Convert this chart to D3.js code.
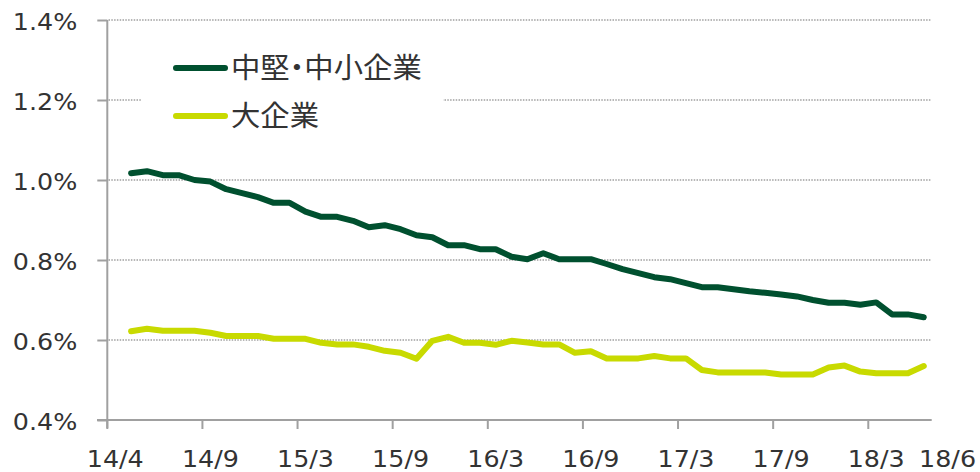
<!DOCTYPE html>
<html>
<head>
<meta charset="utf-8">
<script src="https://cdn.jsdelivr.net/npm/d3@7"></script>
<style>
  html, body { margin: 0; padding: 0; background: #fff; }
  svg { display: block; }
</style>
</head>
<body>
<svg id="chart" width="980" height="472"></svg>
<script>
// Monthly categories 14/3 .. 18/6 (data begins at 14/4)
const categories = [
  "14/3","14/4","14/5","14/6","14/7","14/8","14/9","14/10","14/11","14/12",
  "15/1","15/2","15/3","15/4","15/5","15/6","15/7","15/8","15/9","15/10","15/11","15/12",
  "16/1","16/2","16/3","16/4","16/5","16/6","16/7","16/8","16/9","16/10","16/11","16/12",
  "17/1","17/2","17/3","17/4","17/5","17/6","17/7","17/8","17/9","17/10","17/11","17/12",
  "18/1","18/2","18/3","18/4","18/5","18/6"
];
const seriesNames = ["中堅・中小企業", "大企業"];
const midSmall = [null,
  1.017, 1.022, 1.012, 1.012, 1.000, 0.996, 0.977, 0.967, 0.957, 0.943,
  0.943, 0.921, 0.908, 0.908, 0.898, 0.882, 0.887, 0.877, 0.862, 0.857,
  0.837, 0.837, 0.827, 0.827, 0.808, 0.802, 0.817, 0.802, 0.802, 0.802,
  0.790, 0.777, 0.767, 0.757, 0.752, 0.742, 0.732, 0.732, 0.727, 0.722,
  0.718, 0.714, 0.709, 0.700, 0.693, 0.693, 0.688, 0.694, 0.664, 0.664,
  0.657];
const large = [null,
  0.622, 0.628, 0.623, 0.623, 0.623, 0.618, 0.610, 0.610, 0.610, 0.603,
  0.603, 0.603, 0.593, 0.589, 0.589, 0.583, 0.573, 0.568, 0.553, 0.598,
  0.608, 0.593, 0.593, 0.588, 0.598, 0.594, 0.589, 0.589, 0.568, 0.572,
  0.554, 0.554, 0.554, 0.560, 0.554, 0.554, 0.525, 0.519, 0.519, 0.519,
  0.519, 0.514, 0.514, 0.514, 0.531, 0.536, 0.521, 0.517, 0.517, 0.517,
  0.535];
const yTicks = [0.4, 0.6, 0.8, 1.0, 1.2, 1.4];
const xTickCats = ["14/3","14/9","15/3","15/9","16/3","16/9","17/3","17/9","18/3"];
const xTickLabels = ["14/4","14/9","15/3","15/9","16/3","16/9","17/3","17/9","18/3","18/6"];
const colors = ["#00502f", "#c8da00"];

const svg = d3.select("#chart");
const x = d3.scaleBand().domain(categories).range([107.3, 931.7]).padding(0);
const y = d3.scaleLinear().domain([0.4, 1.4]).range([420, 20]);
const cx = c => x(c) + x.bandwidth() / 2;
const axisColor = "#a0a0a0";
const textColor = "#333";
const sx = 1.08;

// gridlines
svg.append("g").selectAll("line").data(yTicks.filter(t => t > 0.4)).join("line")
  .attr("x1", 108.5).attr("x2", 931.7)
  .attr("y1", d => y(d)).attr("y2", d => y(d))
  .attr("stroke", axisColor).attr("stroke-width", 1.4)
  .attr("stroke-dasharray", "1.5,1.3");

// legend background box
svg.append("rect").attr("x", 142).attr("y", 44).attr("width", 301).attr("height", 92).attr("fill", "#fff");

// y axis
const yAxis = d3.axisLeft(y).tickValues(yTicks).tickSize(10).tickFormat(d => d3.format(".1f")(d) + "%");
const gy = svg.append("g").attr("transform", "translate(107.3,0)").call(yAxis);
gy.select(".domain").remove();
gy.append("line").attr("x1", 0).attr("x2", 0).attr("y1", 20).attr("y2", 428)
  .attr("stroke", axisColor).attr("stroke-width", 2);
gy.selectAll(".tick line").attr("stroke", axisColor).attr("stroke-width", 2);
gy.selectAll(".tick text").remove();
gy.selectAll(".tick").append("text")
  .attr("transform", `translate(-30,9) scale(${sx},1)`)
  .attr("text-anchor", "end")
  .attr("fill", textColor)
  .style("font-family", "'DejaVu Sans', Verdana, sans-serif")
  .style("font-size", "23.5px")
  .text(d => d3.format(".1f")(d) + "%");

// x axis line and ticks
svg.append("line").attr("x1", 97).attr("x2", 931.7).attr("y1", y(0.4)).attr("y2", y(0.4))
  .attr("stroke", axisColor).attr("stroke-width", 2);
svg.append("g").selectAll("line").data(xTickCats).join("line")
  .attr("x1", d => x(d)).attr("x2", d => x(d))
  .attr("y1", y(0.4)).attr("y2", y(0.4) + 9)
  .attr("stroke", axisColor).attr("stroke-width", 2);
svg.append("g").selectAll("text").data(xTickLabels).join("text")
  .attr("transform", (d, i) => {
    const px = i < xTickCats.length ? cx(xTickCats[i]) : cx(categories[categories.length - 1]) + 1.5 * x.bandwidth();
    return `translate(${px},467) scale(${sx},1)`;
  })
  .attr("text-anchor", "middle")
  .attr("fill", textColor)
  .style("font-family", "'DejaVu Sans', Verdana, sans-serif")
  .style("font-size", "23.5px")
  .text(d => d);

// lines
const line = d3.line()
  .defined(d => d.v != null)
  .x(d => cx(d.c)).y(d => y(d.v));
[midSmall, large].forEach((s, k) => {
  svg.append("path")
    .datum(categories.map((c, i) => ({ c, v: s[i] })))
    .attr("d", line)
    .attr("fill", "none")
    .attr("stroke", colors[k])
    .attr("stroke-width", 6)
    .attr("stroke-linejoin", "round")
    .attr("stroke-linecap", "round");
});

// legend
const lg = svg.append("g");
seriesNames.forEach((n, k) => {
  const ly = 68 + k * 48;
  lg.append("line").attr("x1", 176).attr("x2", 225).attr("y1", ly).attr("y2", ly)
    .attr("stroke", colors[k]).attr("stroke-width", 6).attr("stroke-linecap", "round");
  lg.append("text")
    .attr("transform", `translate(231,${ly + 10}) scale(1.03,1)`)
    .attr("fill", textColor)
    .style("font-family", "'Noto Sans CJK JP', sans-serif")
    .style("font-size", "28.5px")
    .style("font-feature-settings", "'palt' 1")
    .text(n);
});
</script>
</body>
</html>
